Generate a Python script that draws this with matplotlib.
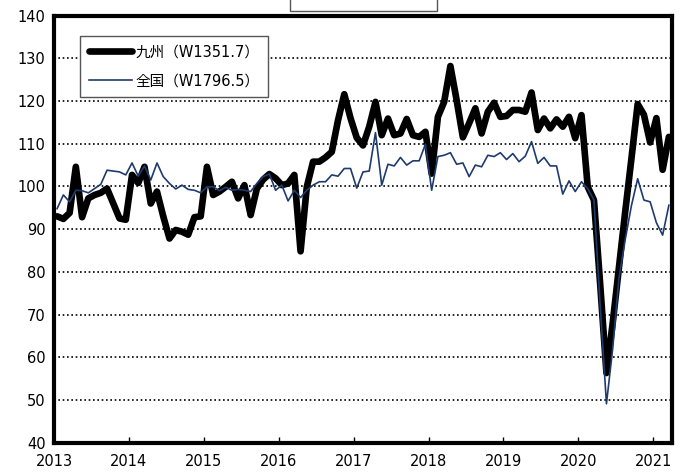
import numpy as np
import matplotlib
matplotlib.use("Agg")
import matplotlib.pyplot as plt
from matplotlib.patches import Rectangle

# monthly index, Jan 2013 - Mar 2021
kyushu = [93.0, 92.4, 93.8, 104.6, 92.8, 97.2, 98.0, 98.5, 99.5, 96.0, 92.5, 92.2,
          102.7, 100.8, 104.6, 96.0, 98.8, 93.0, 87.8, 89.8, 89.4, 88.7, 92.8, 93.0,
          104.6, 98.0, 98.8, 99.9, 101.1, 97.2, 100.3, 93.3, 99.5, 101.6, 102.9, 101.9,
          100.3, 100.7, 102.7, 84.8, 99.9, 105.8, 105.8, 106.8, 108.1, 115.5, 121.6, 116.0,
          111.4, 109.6, 114.0, 119.8, 112.0, 115.9, 112.0, 112.4, 115.8, 112.0, 111.6, 112.8,
          103.0, 116.3, 119.8, 128.2, 120.2, 111.5, 114.8, 118.3, 112.4, 117.5, 119.6, 116.3,
          116.5, 117.9, 117.9, 117.5, 122.0, 113.2, 115.9, 113.6, 115.7, 114.0, 116.3, 111.3,
          116.7, 99.9, 96.8, 77.0, 56.3, 68.0, 81.0, 94.0, 106.5, 119.3, 116.8, 110.3,
          116.0, 103.9, 111.6]
zenkoku = [94.8, 98.0, 96.4, 99.1, 99.0, 98.5, 99.5, 100.5, 103.8, 103.6, 103.4, 102.7,
           105.5, 102.4, 104.8, 101.5, 105.5, 102.3, 100.7, 99.4, 100.3, 99.3, 99.1, 98.5,
           99.9, 99.9, 99.0, 99.8, 99.1, 99.3, 99.1, 98.8, 100.7, 102.3, 102.9, 99.1,
           100.3, 96.6, 99.1, 97.4, 99.1, 100.3, 101.1, 101.1, 102.7, 102.4, 104.2, 104.2,
           99.6, 103.4, 103.6, 112.6, 100.3, 105.2, 104.8, 106.8, 105.0, 106.0, 106.0, 109.9,
           99.1, 107.0, 107.3, 107.9, 105.2, 105.5, 102.3, 105.0, 104.6, 107.3, 107.0, 107.9,
           106.3, 107.7, 105.8, 107.1, 110.5, 105.4, 106.8, 104.8, 104.8, 98.2, 101.3, 98.8,
           101.1, 99.5, 96.8, 72.0, 49.1, 62.0, 78.5, 87.5, 95.5, 101.8, 96.8, 96.4,
           91.5, 88.6, 95.6]
years = ['2013', '2014', '2015', '2016', '2017', '2018', '2019', '2020', '2021']
labels = ['九州（W1351.7）', '全国（W1796.5）']

fonts = ['DejaVu Sans', 'Noto Sans CJK JP']
plt.rcParams['font.family'] = fonts

fig = plt.figure(figsize=(6.94, 4.74), dpi=100)
ax = fig.add_axes([0.0778, 0.0662, 0.8905, 0.9008])

x = np.arange(len(kyushu)) + 0.5
ax.plot(x, kyushu, color='black', lw=4.8, solid_joinstyle='round',
        solid_capstyle='round', label=labels[0], zorder=3)
ax.plot(x, zenkoku, color='#1f3b6e', lw=1.2, label=labels[1], zorder=4)

ax.set_xlim(0, 99)
ax.set_ylim(40, 140)
ax.set_yticks(np.arange(40, 141, 10))
ax.set_xticks(np.arange(0, 97, 12))
ax.set_xticklabels(years)
ax.tick_params(axis='x', direction='in', length=4, width=1, pad=8, labelsize=10.5)
ax.tick_params(axis='y', length=0, pad=6, labelsize=10.5)

for yv in range(50, 140, 10):
    ax.axhline(yv, color='black', lw=1.2, linestyle=(0, (1, 1.6)), zorder=1)

for s in ax.spines.values():
    s.set_linewidth(3)
    s.set_color('black')

leg = ax.legend(loc='upper left', bbox_to_anchor=(0.042, 0.953), borderaxespad=0,
                fontsize=10.5, handlelength=3.0, handletextpad=0.2, labelspacing=0.95,
                fancybox=False, framealpha=1, edgecolor='#555555', borderpad=0.6)
leg.get_frame().set_linewidth(1)

fig.patches.append(Rectangle((290 / 694, 1 - 11 / 474), 147 / 694, 0.05,
                             transform=fig.transFigure, facecolor='white',
                             edgecolor='#555555', lw=1, clip_on=False))

fig.savefig('out.png', dpi=100)
